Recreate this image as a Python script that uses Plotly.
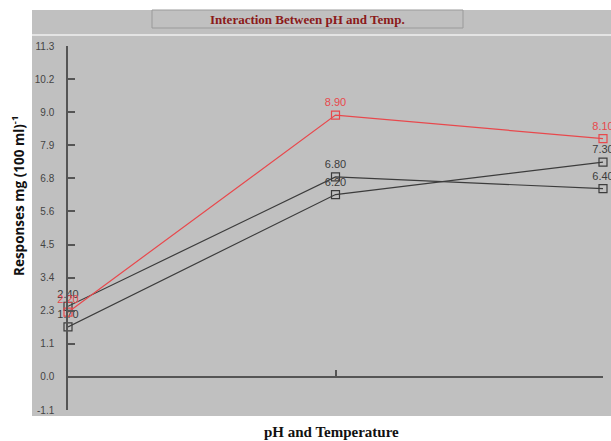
import plotly.graph_objects as go

# Factor levels along the x axis (pH / temperature combinations)
levels = [0, 1, 2]

# Responses for each temperature series
series_a = [2.40, 6.80, 6.40]
series_b = [1.70, 6.20, 7.30]
series_red = [2.20, 8.90, 8.10]

# Y axis ticks
y_ticks = [-1.125, 0.0, 1.125, 2.25, 3.375, 4.5, 5.625, 6.75, 7.875, 9.0, 10.125, 11.25]
y_tick_text = ["-1.1", "0.0", "1.1", "2.3", "3.4", "4.5", "5.6", "6.8", "7.9", "9.0", "10.2", "11.3"]

DARK = "#3c3c3c"
RED = "#e8484c"
AXIS = "#555555"
PANEL = "#c0c0c0"

fig = go.Figure()

def add_series(values, color):
    fig.add_trace(go.Scatter(
        x=levels, y=values,
        mode="lines+markers+text",
        line=dict(color=color, width=1.2),
        marker=dict(symbol="square-open", size=8, color=color, line=dict(width=1.2, color=color)),
        text=[f"{v:.2f}" for v in values],
        textposition="top center",
        textfont=dict(family="Arial, Liberation Sans", size=11, color=color),
        cliponaxis=False,
        showlegend=False,
        hoverinfo="skip",
    ))

add_series(series_a, DARK)
add_series(series_b, DARK)
add_series(series_red, RED)

W, H = 611, 441
L, R, T, B = 68, 8, 46, 31
pw, ph = W - L - R, H - T - B

def px(x):
    return (x - L) / pw

def py(y):
    return (H - B - y) / ph

shapes = [
    # grey chart panel
    dict(type="rect", xref="paper", yref="paper", x0=px(32), x1=px(612), y0=py(416), y1=py(10),
         fillcolor=PANEL, line=dict(width=0), layer="below"),
    # light separator under the title strip
    dict(type="line", xref="paper", yref="paper", x0=px(32), x1=px(612), y0=py(35), y1=py(35),
         line=dict(color="#e4e4e4", width=2), layer="below"),
    # title box
    dict(type="rect", xref="paper", yref="paper", x0=px(152), x1=px(463), y0=py(28), y1=py(10),
         fillcolor=PANEL, line=dict(color="#9a9a9a", width=1), layer="below"),
]

annotations = [
    dict(text="<b>Interaction Between pH and Temp.</b>", xref="paper", yref="paper",
         x=px(307), y=py(19), showarrow=False, xanchor="center", yanchor="middle",
         font=dict(family="Liberation Serif, Times New Roman", size=13, color="#8b1a1a")),
    dict(text="<b>pH and Temperature</b>", xref="paper", yref="paper",
         x=px(331), y=py(432), showarrow=False, xanchor="center", yanchor="middle",
         font=dict(family="Liberation Serif, Times New Roman", size=15, color="#111111")),
    dict(text="<b>Responses mg (100 ml)<sup>-1</sup></b>", xref="paper", yref="paper",
         x=px(18), y=py(196), showarrow=False, xanchor="center", yanchor="middle", textangle=-90,
         font=dict(family="Open Sans, Noto Sans", size=13.5, color="#111111")),
]

fig.update_layout(
    width=W, height=H,
    margin=dict(l=L, r=R, t=T, b=B),
    paper_bgcolor="white",
    plot_bgcolor="rgba(0,0,0,0)",
    shapes=shapes,
    annotations=annotations,
    xaxis=dict(
        range=[0, 2], showgrid=False, zeroline=False,
        showline=True, linecolor=AXIS, linewidth=1.5,
        anchor="free", position=py(377),
        ticks="inside", tickvals=[1, 2], ticklen=6, tickcolor=AXIS, tickwidth=1.5,
        showticklabels=False,
    ),
    yaxis=dict(
        range=[-1.125, 11.25], showgrid=False, zeroline=False,
        showline=True, linecolor=AXIS, linewidth=1.5,
        ticks="inside", tickvals=y_ticks, ticktext=y_tick_text,
        ticklen=7, tickcolor=AXIS, tickwidth=1.5,
        ticklabelstandoff=10,
        tickfont=dict(family="Arial, Liberation Sans", size=10, color="#444444"),
    ),
)

fig.write_html("out.html")
